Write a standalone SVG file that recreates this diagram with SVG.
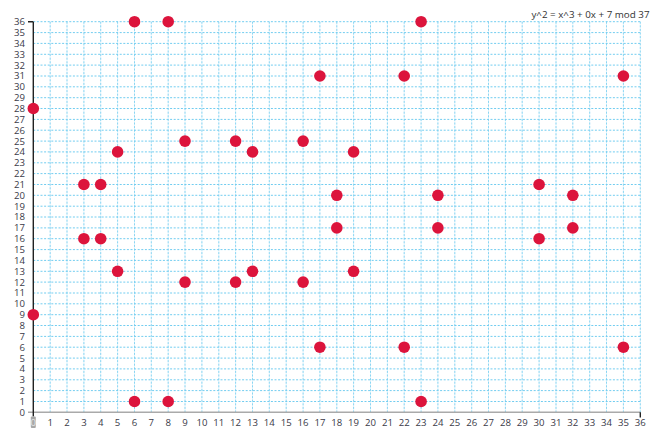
<svg xmlns="http://www.w3.org/2000/svg" width="660" height="435" viewBox="0 0 660 435">
<style>
.bg{fill:#fff}
.gl{fill:none;stroke:#e6f5fc;stroke-width:1}
.gd{fill:none;stroke:#72cdf0;stroke-width:1;stroke-dasharray:2,1.6}
.gv{fill:none;stroke:#8ad6f3;stroke-width:1;stroke-dasharray:2,1.6}
.ax{stroke:#222;stroke-width:1.4;fill:none}
.axx{stroke:#aaa;stroke-width:1.4;fill:none}
.lbl{font-family:"Open Sans","DejaVu Sans",sans-serif;font-size:9.6px;fill:#3a3a48}
.yl{text-anchor:end}
.xl{text-anchor:middle}
.pt{fill:#dc143c}
.title{font-family:"Open Sans","DejaVu Sans",sans-serif;font-size:9.8px;fill:#333;text-anchor:end}
</style>
<rect class="bg" x="0" y="0" width="660" height="435"/>
<g id="grid">
<path class="gl" d="M50.2 21.7V412.3M67.0 21.7V412.3M83.9 21.7V412.3M100.7 21.7V412.3M117.6 21.7V412.3M134.5 21.7V412.3M151.3 21.7V412.3M168.2 21.7V412.3M185.0 21.7V412.3M201.9 21.7V412.3M218.8 21.7V412.3M235.6 21.7V412.3M252.5 21.7V412.3M269.3 21.7V412.3M286.2 21.7V412.3M303.1 21.7V412.3M319.9 21.7V412.3M336.8 21.7V412.3M353.6 21.7V412.3M370.5 21.7V412.3M387.4 21.7V412.3M404.2 21.7V412.3M421.1 21.7V412.3M437.9 21.7V412.3M454.8 21.7V412.3M471.7 21.7V412.3M488.5 21.7V412.3M505.4 21.7V412.3M522.2 21.7V412.3M539.1 21.7V412.3M556.0 21.7V412.3M572.8 21.7V412.3M589.7 21.7V412.3M606.5 21.7V412.3M623.4 21.7V412.3M640.3 21.7V412.3"/>
<path class="gv" d="M50.2 21.7V412.3M67.0 21.7V412.3M83.9 21.7V412.3M100.7 21.7V412.3M117.6 21.7V412.3M134.5 21.7V412.3M151.3 21.7V412.3M168.2 21.7V412.3M185.0 21.7V412.3M201.9 21.7V412.3M218.8 21.7V412.3M235.6 21.7V412.3M252.5 21.7V412.3M269.3 21.7V412.3M286.2 21.7V412.3M303.1 21.7V412.3M319.9 21.7V412.3M336.8 21.7V412.3M353.6 21.7V412.3M370.5 21.7V412.3M387.4 21.7V412.3M404.2 21.7V412.3M421.1 21.7V412.3M437.9 21.7V412.3M454.8 21.7V412.3M471.7 21.7V412.3M488.5 21.7V412.3M505.4 21.7V412.3M522.2 21.7V412.3M539.1 21.7V412.3M556.0 21.7V412.3M572.8 21.7V412.3M589.7 21.7V412.3M606.5 21.7V412.3M623.4 21.7V412.3M640.3 21.7V412.3"/>
<path class="gd" d="M33.3 401.5H640.3M33.3 390.6H640.3M33.3 379.8H640.3M33.3 368.9H640.3M33.3 358.1H640.3M33.3 347.2H640.3M33.3 336.4H640.3M33.3 325.5H640.3M33.3 314.7H640.3M33.3 303.8H640.3M33.3 293.0H640.3M33.3 282.1H640.3M33.3 271.3H640.3M33.3 260.4H640.3M33.3 249.6H640.3M33.3 238.7H640.3M33.3 227.9H640.3M33.3 217.0H640.3M33.3 206.2H640.3M33.3 195.3H640.3M33.3 184.5H640.3M33.3 173.6H640.3M33.3 162.8H640.3M33.3 151.9H640.3M33.3 141.1H640.3M33.3 130.2H640.3M33.3 119.4H640.3M33.3 108.5H640.3M33.3 97.7H640.3M33.3 86.8H640.3M33.3 76.0H640.3M33.3 65.1H640.3M33.3 54.3H640.3M33.3 43.4H640.3M33.3 32.6H640.3M33.3 21.7H640.3"/>
</g>
<g id="axes">
<path class="axx" d="M28 412.3H640.3"/>
<path class="ax" d="M640.3 412.3V417.5"/>
<path class="ax" d="M33.3 21.7V416.5M28 21.7H33.3"/>
</g>
<g id="y-labels" class="lbl yl">
<text x="25" y="415.7">0</text>
<text x="25" y="404.9">1</text>
<text x="25" y="394.0">2</text>
<text x="25" y="383.2">3</text>
<text x="25" y="372.3">4</text>
<text x="25" y="361.5">5</text>
<text x="25" y="350.6">6</text>
<text x="25" y="339.8">7</text>
<text x="25" y="328.9">8</text>
<text x="25" y="318.1">9</text>
<text x="25" y="307.2">10</text>
<text x="25" y="296.4">11</text>
<text x="25" y="285.5">12</text>
<text x="25" y="274.7">13</text>
<text x="25" y="263.8">14</text>
<text x="25" y="253.0">15</text>
<text x="25" y="242.1">16</text>
<text x="25" y="231.3">17</text>
<text x="25" y="220.4">18</text>
<text x="25" y="209.6">19</text>
<text x="25" y="198.7">20</text>
<text x="25" y="187.9">21</text>
<text x="25" y="177.0">22</text>
<text x="25" y="166.2">23</text>
<text x="25" y="155.3">24</text>
<text x="25" y="144.5">25</text>
<text x="25" y="133.6">26</text>
<text x="25" y="122.8">27</text>
<text x="25" y="111.9">28</text>
<text x="25" y="101.1">29</text>
<text x="25" y="90.2">30</text>
<text x="25" y="79.4">31</text>
<text x="25" y="68.5">32</text>
<text x="25" y="57.7">33</text>
<text x="25" y="46.8">34</text>
<text x="25" y="36.0">35</text>
<text x="25" y="25.1">36</text>
</g>
<g id="x-labels" class="lbl xl">
<rect x="30.8" y="416.6" width="5" height="11.4" rx="1" fill="#a8a8a8"/>
<text x="33.3" y="426" fill="#e6e6e6">0</text>
<text x="50.2" y="426">1</text>
<text x="67.0" y="426">2</text>
<text x="83.9" y="426">3</text>
<text x="100.7" y="426">4</text>
<text x="117.6" y="426">5</text>
<text x="134.5" y="426">6</text>
<text x="151.3" y="426">7</text>
<text x="168.2" y="426">8</text>
<text x="185.0" y="426">9</text>
<text x="201.9" y="426">10</text>
<text x="218.8" y="426">11</text>
<text x="235.6" y="426">12</text>
<text x="252.5" y="426">13</text>
<text x="269.3" y="426">14</text>
<text x="286.2" y="426">15</text>
<text x="303.1" y="426">16</text>
<text x="319.9" y="426">17</text>
<text x="336.8" y="426">18</text>
<text x="353.6" y="426">19</text>
<text x="370.5" y="426">20</text>
<text x="387.4" y="426">21</text>
<text x="404.2" y="426">22</text>
<text x="421.1" y="426">23</text>
<text x="437.9" y="426">24</text>
<text x="454.8" y="426">25</text>
<text x="471.7" y="426">26</text>
<text x="488.5" y="426">27</text>
<text x="505.4" y="426">28</text>
<text x="522.2" y="426">29</text>
<text x="539.1" y="426">30</text>
<text x="556.0" y="426">31</text>
<text x="572.8" y="426">32</text>
<text x="589.7" y="426">33</text>
<text x="606.5" y="426">34</text>
<text x="623.4" y="426">35</text>
<text x="640.3" y="426">36</text>
</g>
<g id="points">
<circle class="pt" cx="33.3" cy="314.7" r="5.8"/>
<circle class="pt" cx="33.3" cy="108.5" r="5.8"/>
<circle class="pt" cx="83.9" cy="238.7" r="5.8"/>
<circle class="pt" cx="83.9" cy="184.5" r="5.8"/>
<circle class="pt" cx="100.7" cy="238.7" r="5.8"/>
<circle class="pt" cx="100.7" cy="184.5" r="5.8"/>
<circle class="pt" cx="117.6" cy="271.3" r="5.8"/>
<circle class="pt" cx="117.6" cy="151.9" r="5.8"/>
<circle class="pt" cx="134.5" cy="401.5" r="5.8"/>
<circle class="pt" cx="134.5" cy="21.7" r="5.8"/>
<circle class="pt" cx="168.2" cy="401.5" r="5.8"/>
<circle class="pt" cx="168.2" cy="21.7" r="5.8"/>
<circle class="pt" cx="185.0" cy="282.1" r="5.8"/>
<circle class="pt" cx="185.0" cy="141.1" r="5.8"/>
<circle class="pt" cx="235.6" cy="282.1" r="5.8"/>
<circle class="pt" cx="235.6" cy="141.1" r="5.8"/>
<circle class="pt" cx="252.5" cy="271.3" r="5.8"/>
<circle class="pt" cx="252.5" cy="151.9" r="5.8"/>
<circle class="pt" cx="303.1" cy="282.1" r="5.8"/>
<circle class="pt" cx="303.1" cy="141.1" r="5.8"/>
<circle class="pt" cx="319.9" cy="347.2" r="5.8"/>
<circle class="pt" cx="319.9" cy="76.0" r="5.8"/>
<circle class="pt" cx="336.8" cy="227.9" r="5.8"/>
<circle class="pt" cx="336.8" cy="195.3" r="5.8"/>
<circle class="pt" cx="353.6" cy="271.3" r="5.8"/>
<circle class="pt" cx="353.6" cy="151.9" r="5.8"/>
<circle class="pt" cx="404.2" cy="347.2" r="5.8"/>
<circle class="pt" cx="404.2" cy="76.0" r="5.8"/>
<circle class="pt" cx="421.1" cy="401.5" r="5.8"/>
<circle class="pt" cx="421.1" cy="21.7" r="5.8"/>
<circle class="pt" cx="437.9" cy="227.9" r="5.8"/>
<circle class="pt" cx="437.9" cy="195.3" r="5.8"/>
<circle class="pt" cx="539.1" cy="238.7" r="5.8"/>
<circle class="pt" cx="539.1" cy="184.5" r="5.8"/>
<circle class="pt" cx="572.8" cy="227.9" r="5.8"/>
<circle class="pt" cx="572.8" cy="195.3" r="5.8"/>
<circle class="pt" cx="623.4" cy="347.2" r="5.8"/>
<circle class="pt" cx="623.4" cy="76.0" r="5.8"/>
</g>
<text class="title" x="649.5" y="17.5">y^2 = x^3 + 0x + 7 mod 37</text>
</svg>
